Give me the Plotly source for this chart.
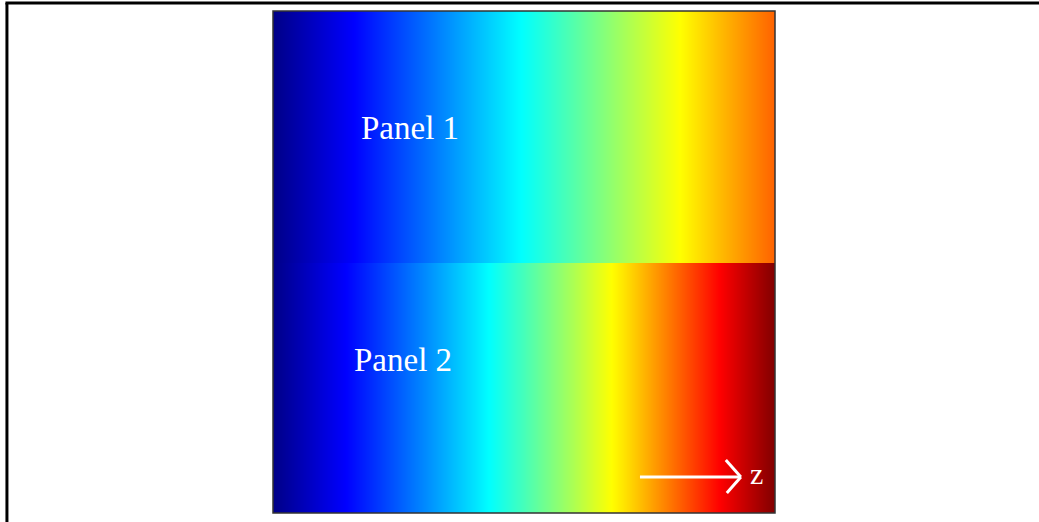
import plotly.graph_objects as go

# Normalised position along z (left -> right)
z_pos = [0.0, 0.1, 0.2, 0.3, 0.4, 0.5, 0.6, 0.7, 0.8, 0.9, 1.0]
# Colour value (0..1 on jet scale)
panel1_vals = [0.0, 0.078, 0.155, 0.230, 0.305, 0.380, 0.458, 0.538, 0.617, 0.70, 0.78]
panel2_vals = [0.0, 0.087, 0.171, 0.259, 0.347, 0.444, 0.546, 0.652, 0.771, 0.888, 1.0]
panel_labels = ["Panel 1", "Panel 2"]
axis_label = "z"

jet = [
    [0.0, "rgb(0,0,135)"],
    [0.125, "rgb(0,0,255)"],
    [0.375, "rgb(0,255,255)"],
    [0.625, "rgb(255,255,0)"],
    [0.875, "rgb(255,0,0)"],
    [1.0, "rgb(128,0,0)"],
]

fig = go.Figure()
fig.add_trace(go.Heatmap(x=z_pos, y=[0, 1], z=[panel1_vals, panel1_vals],
                         colorscale=jet, zmin=0, zmax=1, zsmooth="best",
                         showscale=False, hoverinfo="skip", xaxis="x", yaxis="y"))
fig.add_trace(go.Heatmap(x=z_pos, y=[0, 1], z=[panel2_vals, panel2_vals],
                         colorscale=jet, zmin=0, zmax=1, zsmooth="best",
                         showscale=False, hoverinfo="skip", xaxis="x", yaxis="y2"))

ax = dict(showticklabels=False, showgrid=False, zeroline=False, ticks="", showline=False)
fig.update_layout(
    width=1039, height=522,
    margin=dict(l=273, r=264, t=11, b=9),
    paper_bgcolor="white", plot_bgcolor="white",
    xaxis=dict(range=[0, 1], domain=[0, 1], **ax),
    yaxis=dict(range=[0, 1], domain=[0.498, 1], **ax),
    yaxis2=dict(range=[0, 1], domain=[0, 0.498], anchor="x", **ax),
    showlegend=False,
)

serif = "Liberation Serif, Times New Roman, serif"
fig.add_annotation(x=0.273, y=0.767, xref="paper", yref="paper", text=panel_labels[0],
                   xanchor="center", yanchor="middle",
                   showarrow=False, font=dict(family=serif, size=33, color="white"))
fig.add_annotation(x=0.259, y=0.305, xref="paper", yref="paper", text=panel_labels[1],
                   xanchor="center", yanchor="middle",
                   showarrow=False, font=dict(family=serif, size=33, color="white"))
fig.add_annotation(x=0.963, y=0.078, xref="paper", yref="paper", text=axis_label,
                   xanchor="center", yanchor="middle",
                   showarrow=False, font=dict(family=serif, size=30, color="white"))

# arrow
wl = dict(color="white", width=3)
fig.add_shape(type="line", xref="paper", yref="paper", x0=0.731, y0=0.0717, x1=0.932, y1=0.0717, line=wl)
fig.add_shape(type="line", xref="paper", yref="paper", x0=0.902, y0=0.1056, x1=0.932, y1=0.0717, line=wl)
fig.add_shape(type="line", xref="paper", yref="paper", x0=0.904, y0=0.0398, x1=0.932, y1=0.0717, line=wl)

# panel frame
fig.add_shape(type="rect", xref="paper", yref="paper", x0=0, y0=0, x1=1, y1=1,
              line=dict(color="#333333", width=1.5))

# outer page frame (left and top)
bl = dict(color="black", width=3)
fig.add_shape(type="line", xref="paper", yref="paper", x0=-0.53, y0=-0.03, x1=-0.53, y1=1.016, line=bl)
fig.add_shape(type="line", xref="paper", yref="paper", x0=-0.533, y0=1.016, x1=1.55, y1=1.016, line=bl)

fig.write_html("out.html", config={"displayModeBar": False},
               post_script="document.body.style.margin='0';")
